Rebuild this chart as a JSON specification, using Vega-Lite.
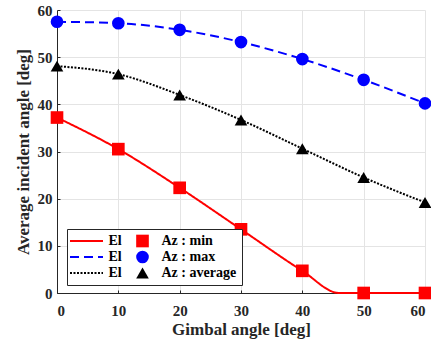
{
  "$schema": "https://vega.github.io/schema/vega-lite/v6.json",
  "width": 368,
  "height": 283,
  "autosize": {"type": "none"},
  "padding": {"left": 57, "top": 10, "right": 6, "bottom": 50},
  "background": "white",
  "config": {
    "font": "Liberation Serif",
    "view": {"stroke": null},
    "axis": {
      "labelFont": "Liberation Serif", "labelFontSize": 15, "labelFontWeight": "bold", "labelColor": "#262626",
      "titleFont": "Liberation Serif", "titleFontSize": 17, "titleFontWeight": "bold", "titleColor": "#262626",
      "gridColor": "#e4e4e4", "gridWidth": 1, "domainColor": "#262626", "domainWidth": 1,
      "tickColor": "#262626", "tickSize": -3, "tickWidth": 1
    },
    "legend": {"labelFont": "Liberation Serif", "labelFontSize": 14, "labelFontWeight": "bold", "labelColor": "#000000"}
  },
  "layer": [
    {
      "data": {"values": [
        {"x": 0, "y": 37.2, "line": "El min"}, {"x": 10, "y": 30.5, "line": "El min"}, {"x": 20, "y": 22.3, "line": "El min"},
        {"x": 30, "y": 13.5, "line": "El min"}, {"x": 40, "y": 4.7, "line": "El min"}, {"x": 46, "y": 0, "line": "El min"},
        {"x": 50, "y": 0, "line": "El min"}, {"x": 60, "y": 0, "line": "El min"},
        {"x": 0, "y": 57.5, "line": "El max"}, {"x": 10, "y": 57.2, "line": "El max"}, {"x": 20, "y": 55.8, "line": "El max"},
        {"x": 30, "y": 53.2, "line": "El max"}, {"x": 40, "y": 49.6, "line": "El max"}, {"x": 50, "y": 45.2, "line": "El max"},
        {"x": 60, "y": 40.2, "line": "El max"},
        {"x": 0, "y": 48.1, "line": "El average"}, {"x": 10, "y": 46.4, "line": "El average"}, {"x": 20, "y": 42.0, "line": "El average"},
        {"x": 30, "y": 36.7, "line": "El average"}, {"x": 40, "y": 30.6, "line": "El average"}, {"x": 50, "y": 24.5, "line": "El average"},
        {"x": 60, "y": 19.2, "line": "El average"}
      ]},
      "mark": {"type": "line", "interpolate": "monotone", "strokeWidth": 2},
      "encoding": {
        "x": {"field": "x", "type": "quantitative", "scale": {"domain": [0, 60], "nice": false},
              "axis": {"title": "Gimbal angle [deg]", "values": [0, 10, 20, 30, 40, 50, 60], "labelPadding": 13, "titlePadding": 3, "grid": true}},
        "y": {"field": "y", "type": "quantitative", "scale": {"domain": [0, 60], "nice": false},
              "axis": {"title": "Average incident angle  [deg]", "values": [0, 10, 20, 30, 40, 50, 60], "labelPadding": 8, "titlePadding": 5, "grid": true}},
        "color": {"field": "line", "type": "nominal",
                  "scale": {"domain": ["El min", "El max", "El average"], "range": ["#ff0000", "#0000ff", "#000000"]},
                  "legend": {"orient": "none", "legendX": 10, "legendY": 219, "padding": 5, "title": null,
                             "symbolType": "M-2.75,0L2.75,0", "symbolSize": 144, "symbolStrokeWidth": 2,
                             "symbolOffset": 7.5, "labelOffset": 15, "labelExpr": "'El'", "rowPadding": 2, "zindex": 2}},
        "strokeDash": {"field": "line", "type": "nominal",
                       "scale": {"domain": ["El min", "El max", "El average"], "range": [[1, 0], [9, 5], [2, 1.5]]}}
      }
    },
    {
      "data": {"values": [
        {"x": 0, "y": 37.2, "marker": "Az : min"}, {"x": 10, "y": 30.5, "marker": "Az : min"}, {"x": 20, "y": 22.3, "marker": "Az : min"},
        {"x": 30, "y": 13.5, "marker": "Az : min"}, {"x": 40, "y": 4.7, "marker": "Az : min"}, {"x": 50, "y": 0, "marker": "Az : min"},
        {"x": 60, "y": 0, "marker": "Az : min"},
        {"x": 0, "y": 57.5, "marker": "Az : max"}, {"x": 10, "y": 57.2, "marker": "Az : max"}, {"x": 20, "y": 55.8, "marker": "Az : max"},
        {"x": 30, "y": 53.2, "marker": "Az : max"}, {"x": 40, "y": 49.6, "marker": "Az : max"}, {"x": 50, "y": 45.2, "marker": "Az : max"},
        {"x": 60, "y": 40.2, "marker": "Az : max"},
        {"x": 0, "y": 48.1, "marker": "Az : average"}, {"x": 10, "y": 46.4, "marker": "Az : average"}, {"x": 20, "y": 42.0, "marker": "Az : average"},
        {"x": 30, "y": 36.7, "marker": "Az : average"}, {"x": 40, "y": 30.6, "marker": "Az : average"}, {"x": 50, "y": 24.5, "marker": "Az : average"},
        {"x": 60, "y": 19.2, "marker": "Az : average"}
      ]},
      "mark": {"type": "point", "filled": true, "opacity": 1, "size": 160},
      "encoding": {
        "x": {"field": "x", "type": "quantitative"},
        "y": {"field": "y", "type": "quantitative"},
        "color": {"field": "marker", "type": "nominal",
                  "scale": {"domain": ["Az : min", "Az : max", "Az : average"], "range": ["#ff0000", "#0000ff", "#000000"]},
                  "legend": {"orient": "none", "legendX": 10, "legendY": 219, "padding": 5, "title": null,
                             "strokeColor": "#262626", "fillColor": "white", "symbolSize": 160, "symbolStrokeWidth": 0,
                             "symbolOffset": 63.5, "labelOffset": 12, "rowPadding": 2, "zindex": 1}},
        "shape": {"field": "marker", "type": "nominal",
                  "scale": {"domain": ["Az : min", "Az : max", "Az : average"], "range": ["square", "circle", "triangle-up"]}}
      }
    }
  ],
  "resolve": {"scale": {"color": "independent", "shape": "independent", "strokeDash": "independent"}, "legend": {"color": "independent"}}
}
